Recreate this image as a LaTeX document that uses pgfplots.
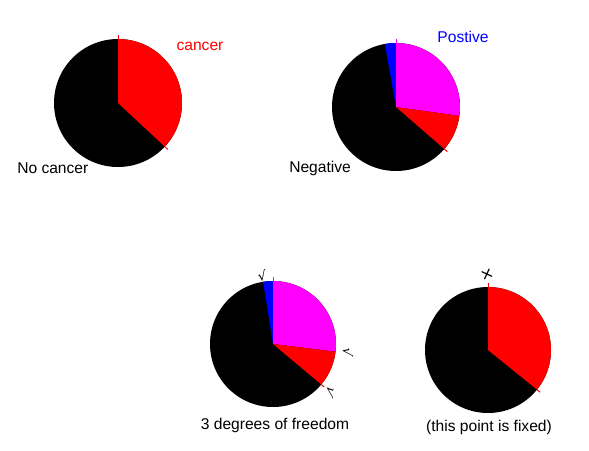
\documentclass[border=0pt]{standalone}
\usepackage{pgfplots}
\pgfplotsset{compat=1.18}
\usepackage{fontspec}
\setmainfont{Liberation Sans}
\newfontfamily\sym{DejaVu Sans}
\definecolor{pmag}{RGB}{255,0,255}
\definecolor{pred}{RGB}{255,0,0}
\definecolor{pblue}{RGB}{0,0,255}

% cx, cy (pixels), radius (pixels), start angle, end angle, colour
\newcommand{\pieslice}[6]{%
  \fill[#6] (axis cs:#1,#2) -- ++({#4}:{#3*0.75pt}) arc[start angle=#4, end angle=#5, radius={#3*0.75pt}] -- cycle;}
\newcommand{\piedisc}[3]{%
  \fill[black] (axis cs:#1,#2) circle[radius={#3*0.75pt}];}
\newcommand{\stub}[5]{%
  \draw[#5, line width=0.75pt] (axis cs:#1,#2) ++({#4}:{#3*0.75pt}) -- ++({#4}:3pt);}

\begin{document}
\begin{tikzpicture}
\begin{axis}[
    width=441.75pt, height=337.5pt, scale only axis,
    xmin=0, xmax=589, ymin=0, ymax=450, y dir=reverse,
    hide axis, clip=false,
  ]
  \path (rel axis cs:0,0) rectangle (rel axis cs:1,1);

  % pie 1: cancer / no cancer
  \piedisc{118}{103}{64}
  \pieslice{118}{103}{64}{90}{-43}{pred}
  \stub{118}{103}{64}{90}{pred}
  \stub{118}{103}{64}{-43}{pred}

  % pie 2: positive / negative
  \piedisc{396}{107}{64}
  \pieslice{396}{107}{64}{90}{100}{pblue}
  \pieslice{396}{107}{64}{90}{-8}{pmag}
  \pieslice{396}{107}{64}{-8}{-41}{pred}
  \stub{396}{107}{64}{90}{pmag}
  \stub{396}{107}{64}{-41}{pred}

  % pie 3: 3 degrees of freedom
  \piedisc{273}{344}{63}
  \pieslice{273}{344}{63}{90}{99}{pblue}
  \pieslice{273}{344}{63}{90}{-7}{pmag}
  \pieslice{273}{344}{63}{-7}{-40}{pred}
  \stub{273}{344}{63}{90}{pmag}
  \stub{273}{344}{63}{-40}{pred}

  % pie 4: fixed point
  \piedisc{488}{350}{63}
  \pieslice{488}{350}{63}{90}{-39}{pred}
  \stub{488}{350}{63}{90}{pred}
  \stub{488}{350}{63}{-39}{pred}

  % marks
  \begin{scope}[every node/.style={font=\sym\fontsize{10}{10}\selectfont, inner sep=0pt}]
    \node[rotate=9] at (axis cs:262,276) {√};
    \node[rotate=-97] at (axis cs:348,352) {√};
    \node[rotate=-130] at (axis cs:331,392) {√};
    \node[rotate=20, font=\sym\fontsize{12}{12}\selectfont] at (axis cs:487,275) {×};
  \end{scope}

  % labels
  \begin{scope}[every node/.style={font=\fontsize{11.7}{14}\selectfont, inner sep=0pt}]
    \node[pred] at (axis cs:200,46) {cancer};
    \node[anchor=west] at (axis cs:17,168) {No cancer};
    \node[pblue] at (axis cs:463,37) {Postive};
    \node[anchor=west] at (axis cs:289,168) {Negative};
    \node at (axis cs:275,425) {3 degrees of freedom};
    \node at (axis cs:489,427) {(this point is fixed)};
  \end{scope}
\end{axis}
\end{tikzpicture}
\end{document}
